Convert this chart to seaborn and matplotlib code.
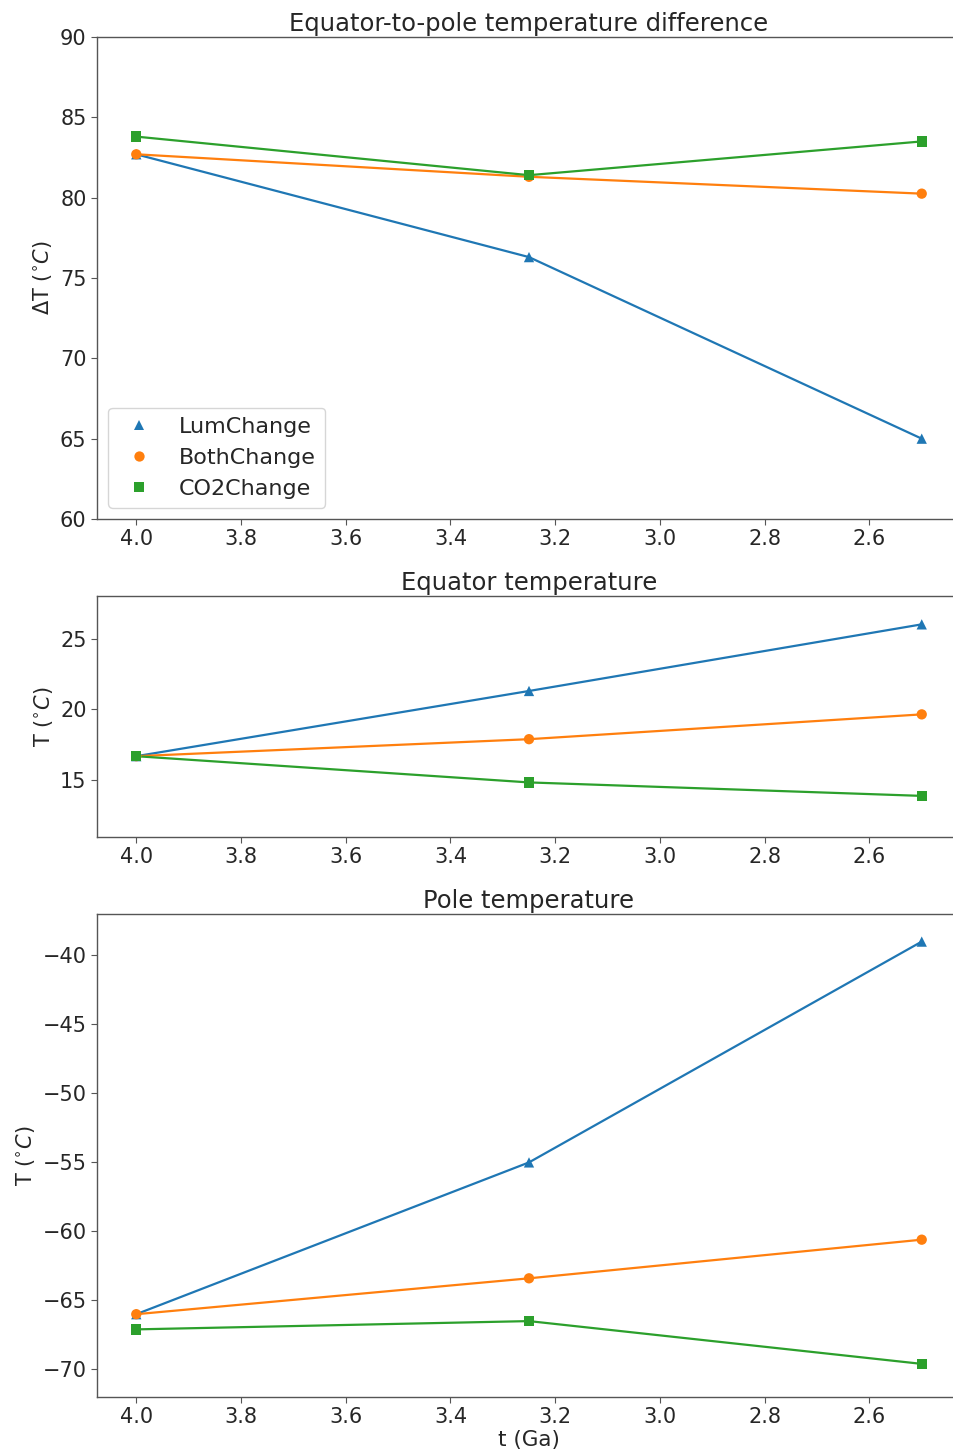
import matplotlib
matplotlib.use("Agg")
import matplotlib.pyplot as plt
import seaborn as sns
import pandas as pd

# Time (Ga before present) of each run
t_ga = [4.0, 3.25, 2.5]
scenarios = ["LumChange", "BothChange", "CO2Change"]

# Equator-to-pole temperature difference (°C)
dT_lum = [82.7, 76.3, 65.0]
dT_both = [82.7, 81.3, 80.25]
dT_co2 = [83.8, 81.4, 83.5]

# Equator temperature (°C)
teq_lum = [16.7, 21.3, 26.0]
teq_both = [16.7, 17.9, 19.65]
teq_co2 = [16.7, 14.85, 13.9]

# Pole temperature (°C)
tpole_lum = [-66.0, -55.0, -39.0]
tpole_both = [-66.0, -63.4, -60.6]
tpole_co2 = [-67.1, -66.5, -69.6]

colors = ["#1f77b4", "#ff7f0e", "#2ca02c"]
markers = ["^", "o", "s"]


def long_frame(lum, both, co2):
    rows = []
    for name, vals in zip(scenarios, [lum, both, co2]):
        for t, v in zip(t_ga, vals):
            rows.append({"t": t, "value": v, "run": name})
    return pd.DataFrame(rows)


sns.set_style("ticks")
plt.rcParams["font.family"] = ["DejaVu Sans"]
plt.rcParams["axes.edgecolor"] = "#555555"
plt.rcParams["xtick.color"] = "#555555"
plt.rcParams["ytick.color"] = "#555555"
plt.rcParams["xtick.labelcolor"] = "#262626"
plt.rcParams["ytick.labelcolor"] = "#262626"
plt.rcParams["text.color"] = "#262626"
plt.rcParams["axes.labelcolor"] = "#262626"

W, H = 954, 1456
fig = plt.figure(figsize=(W / 100, H / 100), dpi=100)

left = 97 / W
width = (961 - 97) / W
ax1 = fig.add_axes([left, (H - 519) / H, width, 482 / H])
ax2 = fig.add_axes([left, (H - 837) / H, width, 241 / H])
ax3 = fig.add_axes([left, (H - 1397) / H, width, 483 / H])

panels = [
    (ax1, long_frame(dT_lum, dT_both, dT_co2), "Equator-to-pole temperature difference",
     r"ΔT ($^{\circ}C$)", (60, 90)),
    (ax2, long_frame(teq_lum, teq_both, teq_co2), "Equator temperature",
     r"T ($^{\circ}C$)", (11, 28)),
    (ax3, long_frame(tpole_lum, tpole_both, tpole_co2), "Pole temperature",
     r"T ($^{\circ}C$)", (-72, -37)),
]

for i, (ax, df, title, ylabel, ylim) in enumerate(panels):
    sns.lineplot(data=df, x="t", y="value", hue="run", hue_order=scenarios,
                 palette=colors, linewidth=1.6, legend=False, ax=ax, zorder=1)
    sns.scatterplot(data=df, x="t", y="value", hue="run", style="run",
                    hue_order=scenarios, style_order=scenarios,
                    palette=colors, markers=markers, s=55, linewidth=0,
                    legend=(i == 0), ax=ax, zorder=2)
    ax.set_xlim(4.075, 2.425)
    ax.set_ylim(*ylim)
    ax.set_title(title, fontsize=17.5, pad=4)
    ax.set_ylabel(ylabel, fontsize=15)
    ax.set_xlabel("t (Ga)" if i == 2 else "", fontsize=15.5, labelpad=2)
    ax.tick_params(labelsize=15, length=4, width=0.8)
    ax.set_xticks([4.0, 3.8, 3.6, 3.4, 3.2, 3.0, 2.8, 2.6])
    for sp in ax.spines.values():
        sp.set_linewidth(1.0)

ax1.set_yticks([60, 65, 70, 75, 80, 85, 90])
ax2.set_yticks([15, 20, 25])
ax3.set_yticks([-70, -65, -60, -55, -50, -45, -40])

handles, labels = ax1.get_legend_handles_labels()
ax1.legend(handles, labels, loc="lower left", fontsize=16, frameon=True,
           markerscale=1.0, borderaxespad=0.5)

fig.savefig("out.png", dpi=100)
